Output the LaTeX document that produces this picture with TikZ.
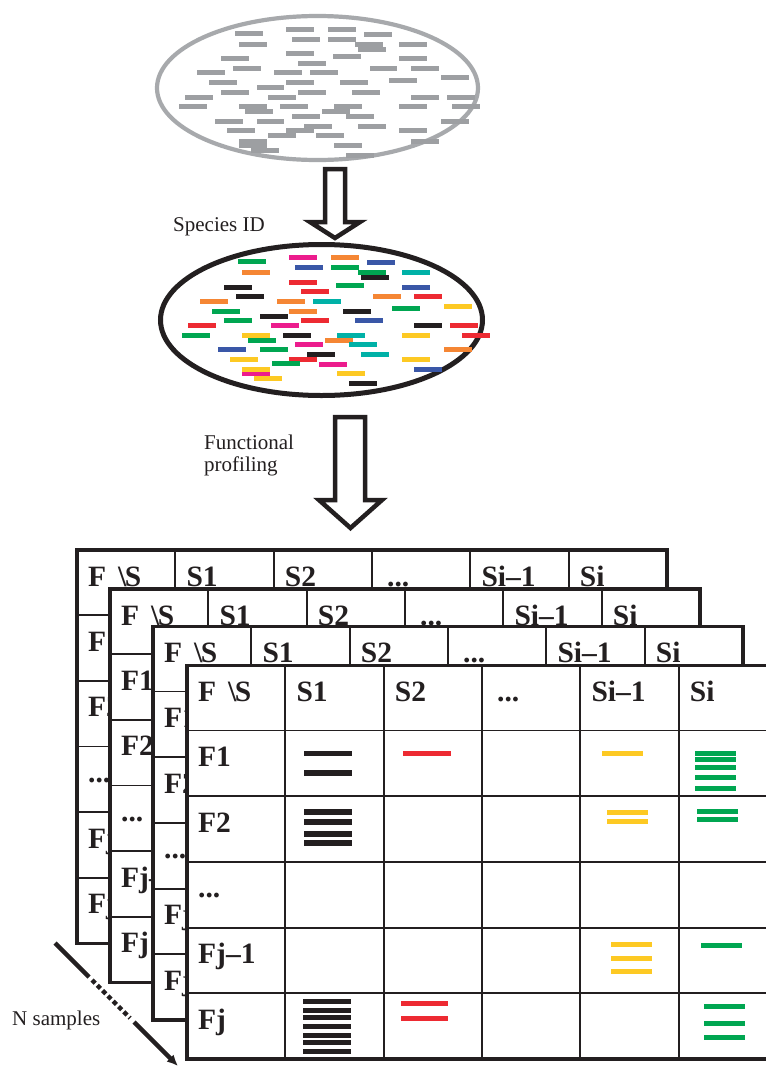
\documentclass[tikz,border=0pt]{standalone}
\usepackage{fontspec}
\setmainfont{Liberation Serif}
\usetikzlibrary{shapes.geometric,arrows.meta,calc}
\definecolor{ink}{HTML}{231F20}
\definecolor{pgray}{HTML}{A7A9AC}
\definecolor{bgray}{HTML}{9D9FA2}
\definecolor{cgreen}{HTML}{00A651}
\definecolor{cmag}{HTML}{EC1C8D}
\definecolor{corange}{HTML}{F58634}
\definecolor{cblue}{HTML}{3A57A7}
\definecolor{cteal}{HTML}{00B1A7}
\definecolor{cred}{HTML}{ED2A32}
\definecolor{cyellow}{HTML}{FDC923}
\tikzset{
  gridline/.style={draw=ink, line width=1.8pt},
  frame/.style={draw=ink, line width=3.4pt},
  lbl/.style={anchor=base west, inner sep=0pt, text=ink, font=\fontsize{29.5}{31}\selectfont\bfseries},
  caption/.style={anchor=base west, inner sep=0pt, text=ink, font=\fontsize{21}{22}\selectfont},
  blockarrow/.style={draw=ink, fill=white, line width=4.5pt, line join=miter},
  nline/.style={draw=ink, line width=4.5pt},
}
\newcommand\fptable[3]{%
\begin{scope}[shift={(#1,#2)}]
\fill[white] (0,0) rectangle (590,393.5);
\foreach \i in {1,...,5} \draw[gridline] (\i*98.33,0) -- (\i*98.33,393.5);
\foreach \j in {0,...,4} \draw[gridline] (0,65+\j*65.7) -- (590,65+\j*65.7);
\draw[frame] (0,0) rectangle (590,393.5);
\node[lbl] (#3h0) at (11,36) {F\hspace{12pt}\textbackslash\kern-1.5pt S};
\node[lbl] (#3h1) at (98.33+11,36) {S1};
\node[lbl] (#3h2) at (196.67+11,36) {S2};
\node[lbl] (#3h3) at (295+15,36) {...};
\node[lbl] (#3h4) at (393.33+11,36) {Si\textendash 1};
\node[lbl] (#3h5) at (491.67+11,36) {Si};
\node[lbl] (#3r1) at (11,65+36) {F1};
\node[lbl] (#3r2) at (11,130.7+36) {F2};
\node[lbl] (#3r3) at (11,196.4+36) {...};
\node[lbl] (#3r4) at (11,262.1+36) {Fj\textendash 1};
\node[lbl] (#3r5) at (11,327.8+36) {Fj};
\end{scope}}
\begin{document}
\begin{tikzpicture}[x=1pt,y=-1pt]
\useasboundingbox (0,0) rectangle (766,1066);
\clip (0,0) rectangle (766,1066);
\fill[white] (0,0) rectangle (766,1066);

% ---- raw read pool
\node[draw=pgray, line width=4.2pt, ellipse, minimum width=321pt, minimum height=144pt, inner sep=0pt] (pool) at (317.5,88) {};
\foreach \x/\y in {235/33.3, 286/29.3, 328/29.3, 364/34.3, 239/44, 292/39.3, 328/39, 355/44, 358/49, 399/44,
  286/53.3, 221/58.3, 333/56.7, 399/58.3, 298/63.3, 233/68, 369.7/68, 411/68, 197/72.7, 274/72.7,
  310/72.7, 441/77.7, 389/80, 209/82.7, 286/82.7, 340/82.7, 256.7/87.3, 221/92, 298/92, 352/92,
  185/97, 268.3/97, 411/97, 447/97, 179.3/106.7, 239/106.7, 280.3/106.7, 334.3/106.7, 399/106.7, 452/106.7,
  245/111.7, 322/111.7, 292/116.3, 346/116.3, 215/121, 256.7/121, 441/121, 304/126, 358/126, 227/130.7,
  286/130.7, 399/130.7, 268.3/135.3, 316/135.3, 239/141, 239/145, 251/150, 411/141, 334/145.7, 346/155.3}
  \fill[bgray] (\x,\y-2.5) rectangle ++(27.7,5);

% ---- arrow 1
\coordinate (a1top) at (335,169);
\coordinate (a1tip) at (335,238);
\draw[blockarrow] ($(a1top)+(-10,0)$) -- ($(a1top)+(10,0)$) -- (345,222) -- (360,222) -- (a1tip) -- (310,222) -- (325,222) -- cycle;
\node[caption] (spid) at (173,231.7) {Species ID};

% ---- identified species pool
\node[draw=ink, line width=5pt, ellipse, minimum width=322pt, minimum height=151pt, inner sep=0pt] (species) at (321.5,320) {};
\foreach \cc/\x/\y in {cgreen/238.3/261.7, cmag/289.3/257.7, corange/331/257.7, cblue/367.3/262.3, corange/242.3/272.3,
  cblue/295.3/267.3, cgreen/331/267.3, cgreen/358.3/272.3, ink/361/277.3, cteal/402.3/272.3,
  ink/224/287, cred/289.3/282, cgreen/336/285, cblue/402.3/287, cred/301/291.7,
  ink/236/296.7, corange/373/296.7, cred/414.3/296.7, corange/200/301.3, corange/277.3/301.3,
  cteal/313/301.3, cgreen/392/308.3, cyellow/444/306.3, cgreen/212/311, corange/289.3/311,
  ink/343.3/311, ink/259.7/316, cgreen/224/320.7, cred/301/320.7, cblue/355/320.7,
  cmag/271.3/325.3, cred/188.3/325.3, ink/414.3/325.3, cred/450/325.3, cgreen/182.3/335,
  cyellow/242.3/335, ink/283.3/335, cteal/337.3/335, cyellow/402.3/335, cred/462/335,
  cgreen/248/340, corange/325/340, cmag/295.3/344.7, cteal/349/344.7, cblue/218/349.7,
  cgreen/259.7/349.7, corange/444/349.7, ink/307.3/354.3, cteal/361/354.3, cyellow/230/359.3,
  cred/289.3/359.3, cgreen/271.7/363.7, cmag/319.3/364, cyellow/402.3/359.3, cmag/242.3/373.7,
  cyellow/242.3/369, cblue/414.3/369, cyellow/254/378.3, cyellow/337.3/373.7, ink/349/383}
  \fill[\cc] (\x,\y-2.5) rectangle ++(28,5);

% ---- arrow 2
\coordinate (a2top) at (350,417);
\coordinate (a2tip) at (350.5,528);
\draw[blockarrow] ($(a2top)+(-15,0)$) -- ($(a2top)+(15,0)$) -- (365,500) -- (382,500) -- (a2tip) -- (319,500) -- (335,500) -- cycle;
\node[caption] (fp1) at (204,449) {Functional};
\node[caption] (fp2) at (204,471) {profiling};

% ---- stacked tables
\fptable{77}{550}{ta}
\fptable{110}{589}{tb}
\fptable{153}{626.5}{tc}
\fptable{187}{665.5}{td}

% bars in the front table
\foreach \x/\y in {304/753.5, 304/772.7, 304/811.7, 304/821.7, 304/833.7, 304/843}
  \fill[ink] (\x,\y-2.8) rectangle ++(48,5.6);
\foreach \y in {1001.7, 1010, 1017.7, 1026, 1035, 1042.7, 1051.3}
  \fill[ink] (303,\y-2.5) rectangle ++(48,5);
\foreach \x/\y in {403/753, 400.5/1003, 400.5/1018.7}
  \fill[cred] (\x,\y-2.5) rectangle ++(47.5,5);
\foreach \x/\y in {602/753, 607/812, 607/821.7, 611/944, 611/958, 611/971}
  \fill[cyellow] (\x,\y-2.5) rectangle ++(41,5);
\foreach \x/\y in {695/753, 695/759.3, 695/767.7, 695/777.7, 695/788.3, 697/811, 697/819.7, 700.5/945, 704/1006, 704/1023, 704/1037}
  \fill[cgreen] (\x,\y-2.5) rectangle ++(41,5);

% ---- N samples arrow
\coordinate (n1) at (55,943);
\coordinate (n2) at (89,977);
\coordinate (n3) at (92,980);
\coordinate (n4) at (130,1018);
\coordinate (n5) at (134,1022);
\coordinate (n6) at (178,1066);
\draw[nline] (n1) -- (n2);
\draw[nline, dash pattern=on 4.5pt off 3pt] (n3) -- (n4);
\draw[nline, -{Latex[length=11pt,width=10pt]}] (n5) -- (n6);
\node[caption] (nsamp) at (12,1025) {N samples};
\end{tikzpicture}
\end{document}
